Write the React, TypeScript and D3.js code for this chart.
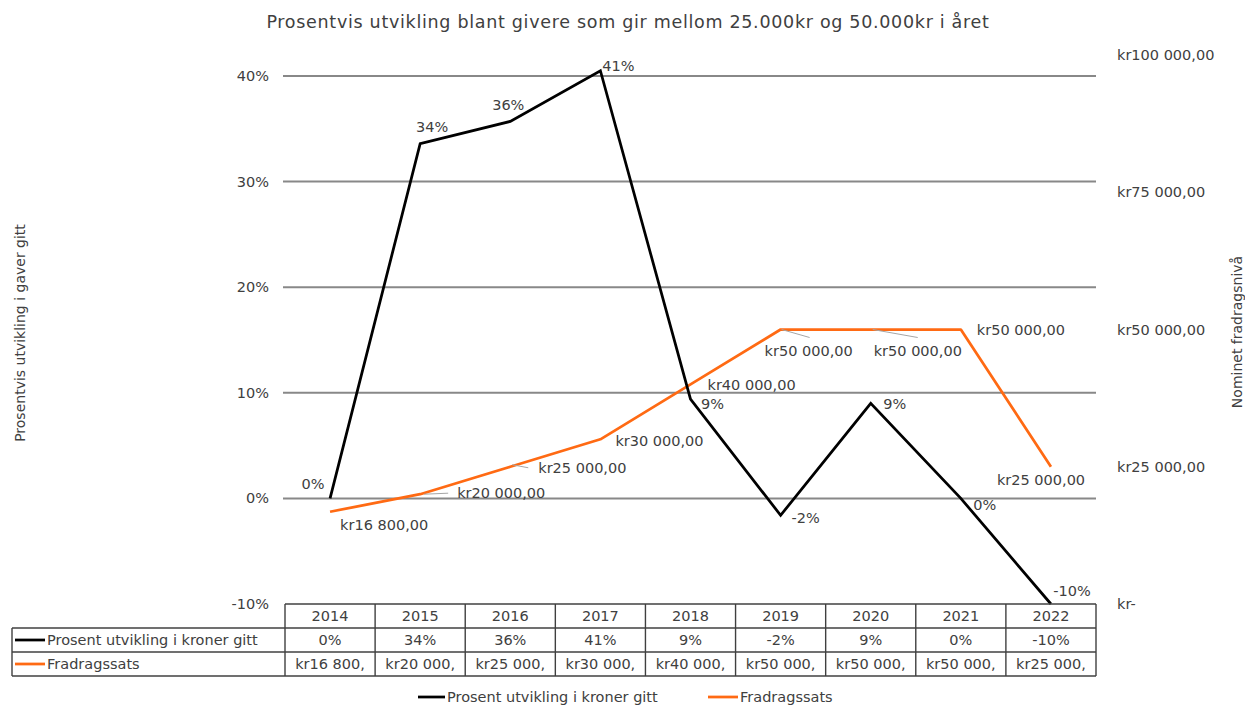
import React from "react";
import * as d3 from "d3";

const years = ["2014", "2015", "2016", "2017", "2018", "2019", "2020", "2021", "2022"];
const pctGrowth = [0, 0.336, 0.357, 0.405, 0.094, -0.016, 0.09, 0, -0.1];
const fradrag = [16800, 20000, 25000, 30000, 40000, 50000, 50000, 50000, 25000];
const leftTicks = [-0.1, 0, 0.1, 0.2, 0.3, 0.4];
const rightTicks = [0, 25000, 50000, 75000, 100000];

const title = "Prosentvis utvikling blant givere som gir mellom 25.000kr og 50.000kr i året";
const leftTitle = "Prosentvis utvikling i gaver gitt";
const rightTitle = "Nominet fradragsnivå";
const seriesPct = "Prosent utvikling i kroner gitt";
const seriesKr = "Fradragssats";

// label layout offsets (relative to the data point)
const pctLabelOffsets = [
  [-17, -14], [12, -17], [-2, -16], [18, -5], [22, 5], [25, 3], [24, 1], [24, 7], [21, -13],
];
const krLabelOffsets = [
  [10, 13], [37, -1], [28, 1], [15, 2], [17, 1], [-16, 21], [3, 21], [16, 0], [-54, 13],
];
const krLeaders: (number[] | null)[] = [
  null, [4, 0, 28, -1], [2, -2, 18, 1], null, null, [1, 0, 29, 8], [2, 0, 47, 8], null, null,
];

const locale = d3.formatLocale({
  decimal: ",",
  thousands: " ",
  grouping: [3],
  currency: ["kr", ""],
  minus: "-",
});
const fmtPct = locale.format(".0%");
const fmtNum = locale.format(",");
const fmtKr = (v: number) => (v === 0 ? "kr-" : `kr${fmtNum(v)},00`);
const fmtKrShort = (v: number) => `kr${fmtNum(v)},`;

const W = 1245;
const H = 705;
const FONT = "'DejaVu Sans', sans-serif";
const TXT = "#404040";
const ORANGE = "#FF6A13";

export default function App() {
  const x = d3.scaleBand<string>().domain(years).range([285, 1096]);
  const cx = (y: string) => (x(y) as number) + x.bandwidth() / 2;
  const yL = d3.scaleLinear().domain([-0.1, 0.4]).range([604, 76]);
  const yR = d3.scaleLinear().domain([0, 100000]).range([604, 55]);

  const pctLine = d3
    .line<number>()
    .x((_, i) => cx(years[i]))
    .y((d) => yL(d));
  const krLine = d3
    .line<number>()
    .x((_, i) => cx(years[i]))
    .y((d) => yR(d));

  const plotL = 283;
  const plotR = 1096;
  const tableL = 12;
  const rowH = 24;
  const t0 = yL(-0.1);
  const fs = 14.5;

  return (
    <svg
      width={W}
      height={H}
      style={{ position: "absolute", left: 0, top: 0, background: "#fff" }}
      fontFamily={FONT}
    >
      <rect x={0} y={0} width={W} height={H} fill="#fff" />
      <text
        x={628}
        y={22}
        textAnchor="middle"
        dominantBaseline="central"
        fontSize={17.5}
        letterSpacing={0.7}
        fill={TXT}
      >
        {title}
      </text>

      {/* gridlines */}
      {leftTicks
        .filter((t) => t > -0.1)
        .map((t) => (
          <line key={t} x1={plotL} x2={plotR} y1={yL(t)} y2={yL(t)} stroke="#888" strokeWidth={2} />
        ))}

      {/* left axis labels */}
      {leftTicks.map((t) => (
        <text key={t} x={269} y={yL(t)} textAnchor="end" dominantBaseline="central" fontSize={fs} fill={TXT}>
          {fmtPct(t)}
        </text>
      ))}
      {/* right axis labels */}
      {rightTicks.map((t) => (
        <text key={t} x={1117} y={yR(t)} textAnchor="start" dominantBaseline="central" fontSize={fs} fill={TXT}>
          {fmtKr(t)}
        </text>
      ))}

      <text
        transform={`translate(20,333) rotate(-90)`}
        textAnchor="middle"
        dominantBaseline="central"
        fontSize={14}
        fill={TXT}
      >
        {leftTitle}
      </text>
      <text
        transform={`translate(1237,332) rotate(-90)`}
        textAnchor="middle"
        dominantBaseline="central"
        fontSize={14}
        fill={TXT}
      >
        {rightTitle}
      </text>

      {/* lines */}
      <path d={krLine(fradrag) || ""} fill="none" stroke={ORANGE} strokeWidth={2.75} strokeLinejoin="round" />
      <path d={pctLine(pctGrowth) || ""} fill="none" stroke="#000" strokeWidth={2.75} strokeLinejoin="miter" />

      {/* leaders */}
      {fradrag.map((v, i) => {
        const l = krLeaders[i];
        if (!l) return null;
        const px = cx(years[i]);
        const py = yR(v);
        return (
          <line key={i} x1={px + l[0]} y1={py + l[1]} x2={px + l[2]} y2={py + l[3]} stroke="#a6a6a6" strokeWidth={1} />
        );
      })}

      {/* data labels */}
      {pctGrowth.map((v, i) => (
        <text
          key={i}
          x={cx(years[i]) + pctLabelOffsets[i][0]}
          y={yL(v) + pctLabelOffsets[i][1]}
          textAnchor="middle"
          dominantBaseline="central"
          fontSize={fs}
          fill={TXT}
        >
          {fmtPct(v)}
        </text>
      ))}
      {fradrag.map((v, i) => (
        <text
          key={i}
          x={cx(years[i]) + krLabelOffsets[i][0]}
          y={yR(v) + krLabelOffsets[i][1]}
          textAnchor="start"
          dominantBaseline="central"
          fontSize={fs}
          fill={TXT}
        >
          {fmtKr(v)}
        </text>
      ))}

      {/* data table */}
      <g stroke="#404040" strokeWidth={1.4} fill="none">
        <line x1={285} x2={plotR} y1={t0} y2={t0} />
        <line x1={tableL} x2={plotR} y1={t0 + rowH} y2={t0 + rowH} />
        <line x1={tableL} x2={plotR} y1={t0 + rowH * 2} y2={t0 + rowH * 2} />
        <line x1={tableL} x2={plotR} y1={t0 + rowH * 3} y2={t0 + rowH * 3} />
        <line x1={tableL} x2={tableL} y1={t0 + rowH} y2={t0 + rowH * 3} />
        {years.map((yr) => (
          <line key={yr} x1={x(yr)} x2={x(yr)} y1={t0} y2={t0 + rowH * 3} />
        ))}
        <line x1={plotR} x2={plotR} y1={t0} y2={t0 + rowH * 3} />
      </g>
      {years.map((yr, i) => (
        <g key={yr} fontSize={fs} fill={TXT} textAnchor="middle">
          <text x={cx(yr)} y={t0 + rowH * 0.5} dominantBaseline="central">{yr}</text>
          <text x={cx(yr)} y={t0 + rowH * 1.5} dominantBaseline="central">{fmtPct(pctGrowth[i])}</text>
          <text x={cx(yr)} y={t0 + rowH * 2.5} dominantBaseline="central">{fmtKrShort(fradrag[i])}</text>
        </g>
      ))}
      <line x1={15} x2={45} y1={t0 + rowH * 1.5} y2={t0 + rowH * 1.5} stroke="#000" strokeWidth={2.75} />
      <text x={47} y={t0 + rowH * 1.5} dominantBaseline="central" fontSize={fs} fill={TXT}>{seriesPct}</text>
      <line x1={15} x2={45} y1={t0 + rowH * 2.5} y2={t0 + rowH * 2.5} stroke={ORANGE} strokeWidth={2.75} />
      <text x={47} y={t0 + rowH * 2.5} dominantBaseline="central" fontSize={fs} fill={TXT}>{seriesKr}</text>

      {/* legend */}
      <line x1={418} x2={445} y1={697} y2={697} stroke="#000" strokeWidth={2.75} />
      <text x={447} y={697} dominantBaseline="central" fontSize={fs} fill={TXT}>{seriesPct}</text>
      <line x1={708} x2={738} y1={697} y2={697} stroke={ORANGE} strokeWidth={2.75} />
      <text x={740} y={697} dominantBaseline="central" fontSize={fs} fill={TXT}>{seriesKr}</text>
    </svg>
  );
}
